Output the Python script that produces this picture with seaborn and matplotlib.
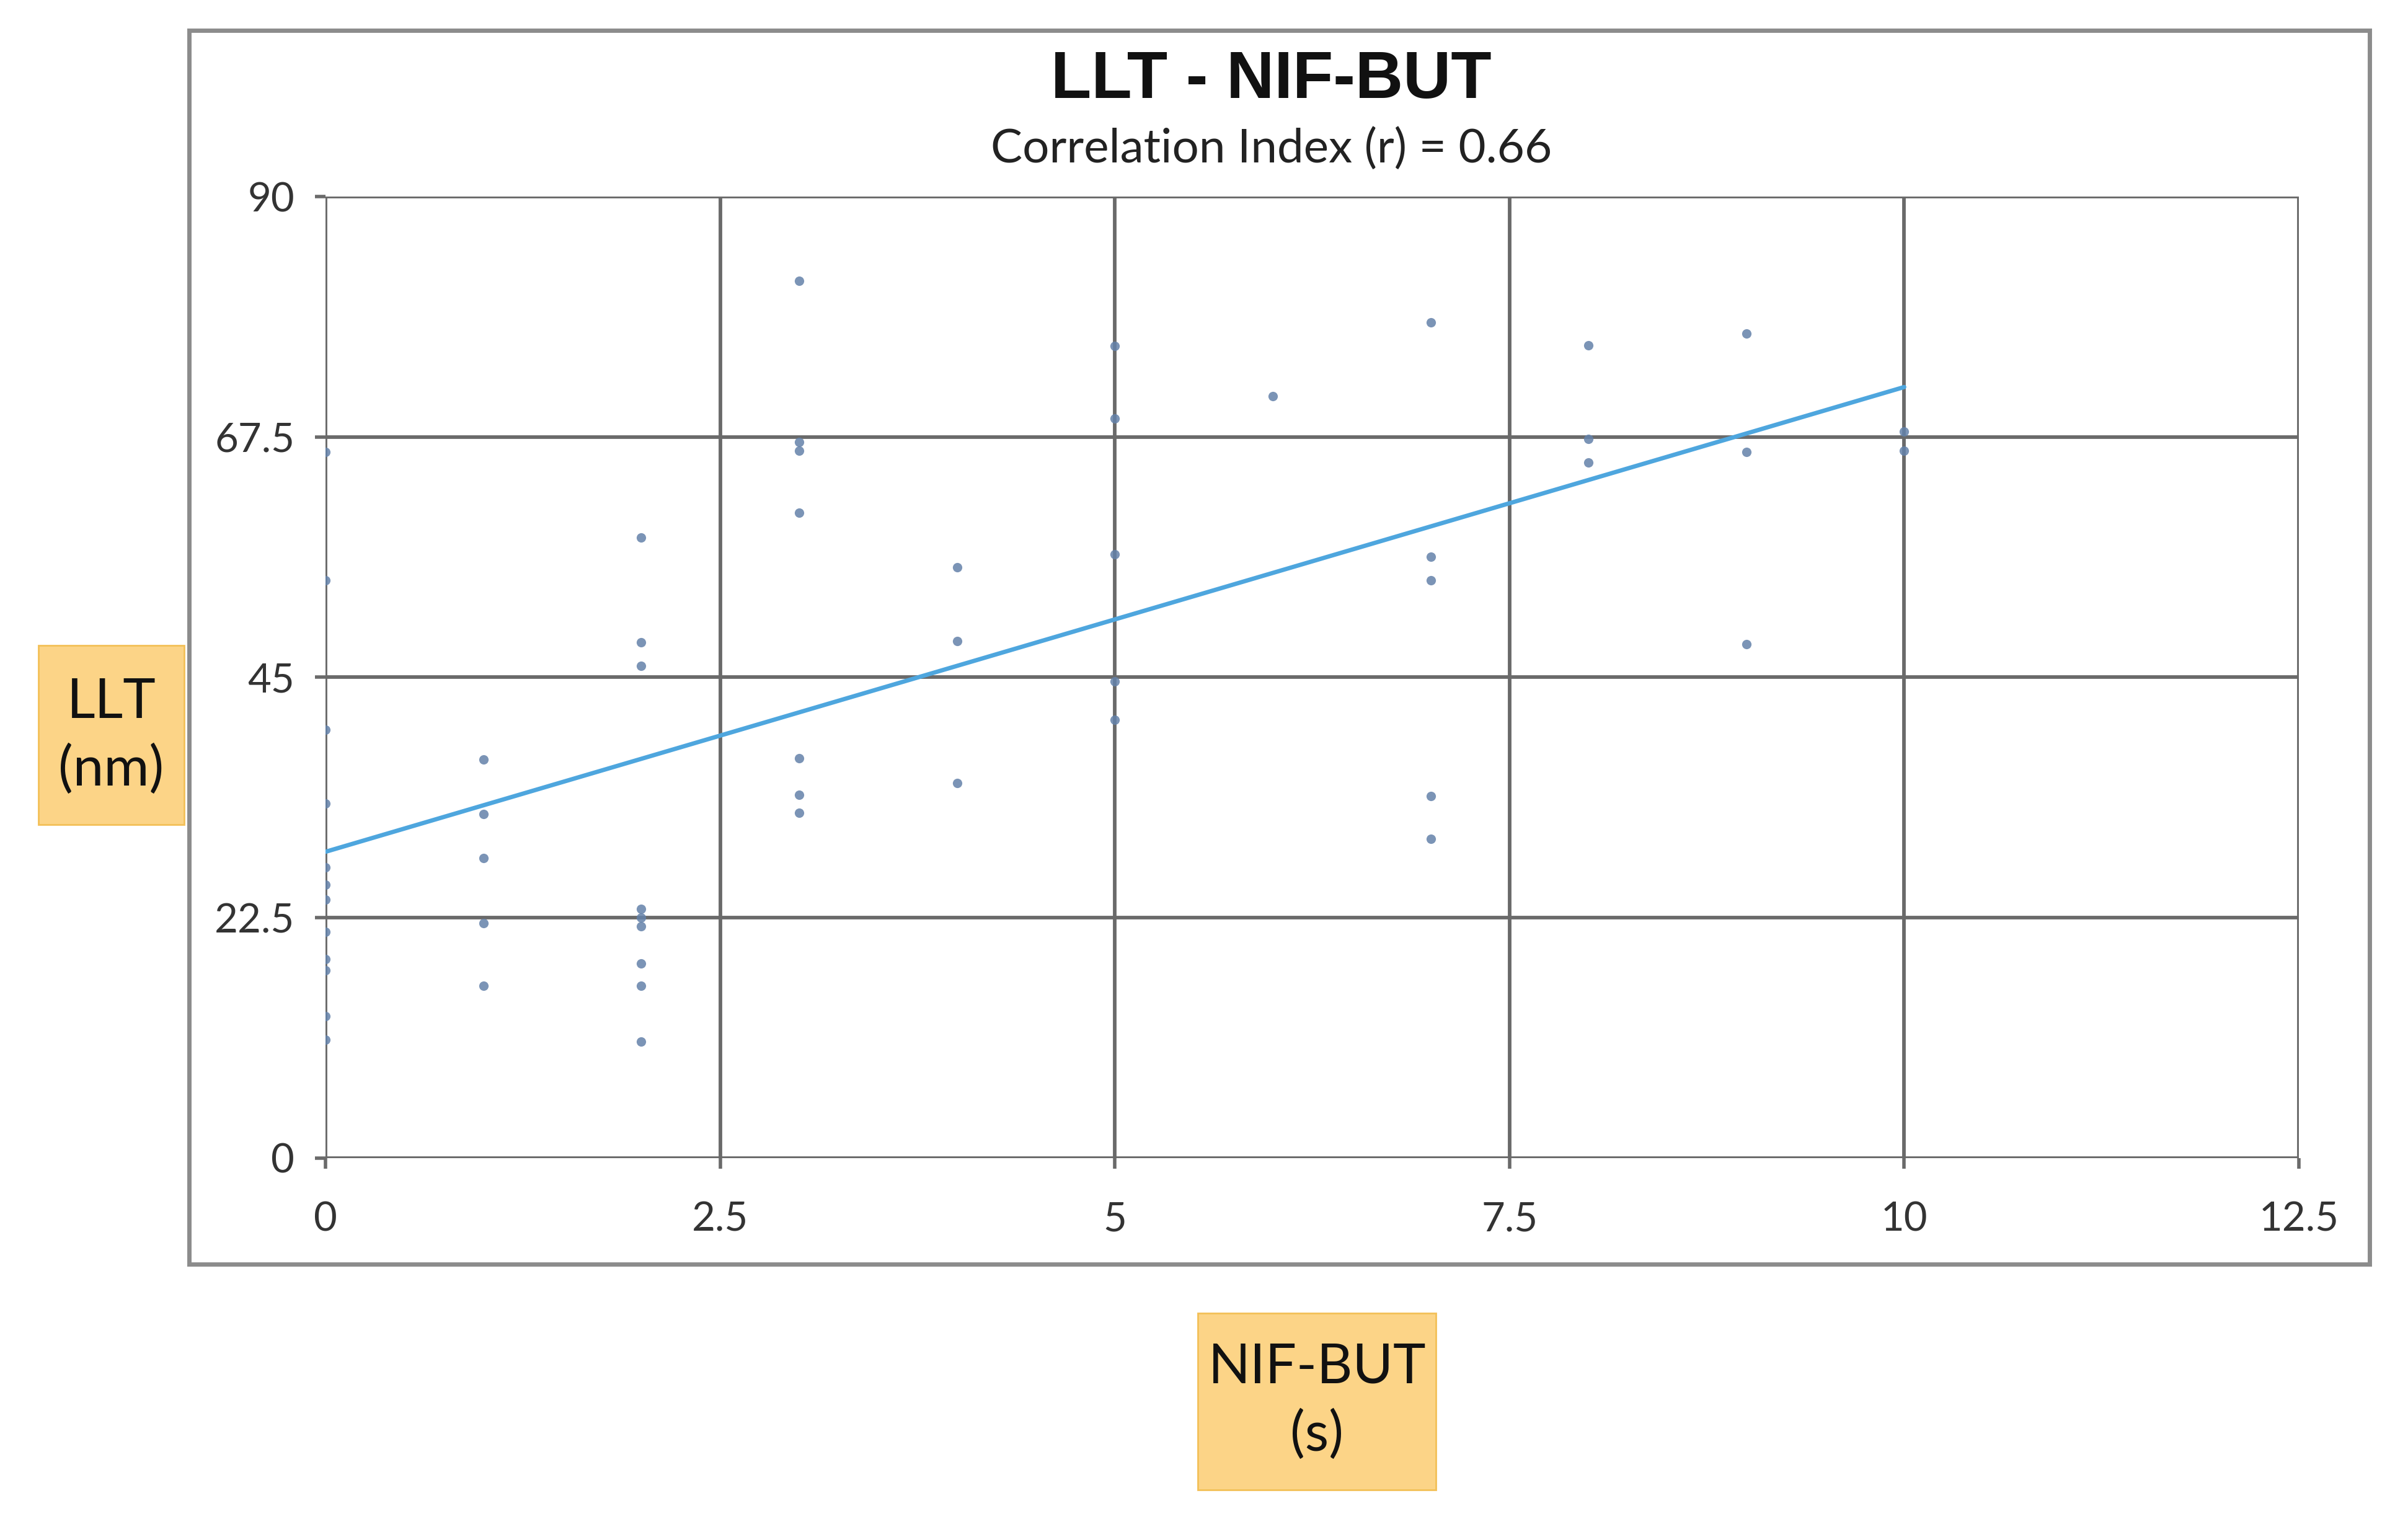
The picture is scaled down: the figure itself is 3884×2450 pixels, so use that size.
import numpy as np
import pandas as pd
import matplotlib
matplotlib.use("Agg")
import matplotlib.pyplot as plt
from matplotlib.patches import Rectangle
import seaborn as sns

# ---- data ----
nif_but = ([0] * 12 + [1] * 5 + [2] * 9 + [3] * 7 + [4] * 3 + [5] * 5 + [6] * 1
           + [7] * 5 + [8] * 3 + [9] * 3 + [10] * 2)
llt = [66.1, 54.1, 40.1, 33.2, 27.2, 25.6, 24.2, 21.2, 18.6, 17.6, 13.3, 11.1,
       37.3, 32.2, 28.1, 22.0, 16.1,
       58.1, 48.3, 46.1, 23.3, 22.5, 21.7, 18.2, 16.1, 10.9,
       82.1, 67.0, 66.2, 60.4, 37.4, 34.0, 32.3,
       55.3, 48.4, 35.1,
       76.0, 69.2, 56.5, 44.6, 41.0,
       71.3,
       78.2, 56.3, 54.1, 33.9, 29.9,
       76.1, 67.3, 65.1,
       77.2, 66.1, 48.1,
       68.0, 66.2]
x_ticks = [0, 2.5, 5, 7.5, 10, 12.5]
x_tick_labels = ["0", "2.5", "5", "7.5", "10", "12.5"]
y_ticks = [0, 22.5, 45, 67.5, 90]
y_tick_labels = ["0", "22.5", "45", "67.5", "90"]
title = "LLT - NIF-BUT"
subtitle = "Correlation Index (r) = 0.66"
x_label = "NIF-BUT\n(s)"
y_label = "LLT\n(nm)"

df = pd.DataFrame({"NIF-BUT": nif_but, "LLT": llt})

sns.set_theme(style="white")
plt.rcParams["font.family"] = ["Lato", "DejaVu Sans"]

fig = plt.figure(figsize=(38.84, 24.5), dpi=100)
fig.patch.set_facecolor("white")

# outer chart frame
fig.patches.append(Rectangle((0.0784, 0.1678), 0.9056, 0.812, transform=fig.transFigure,
                             fill=False, edgecolor="#8c8c8c", linewidth=5, zorder=0))

ax = fig.add_axes([0.1352, 0.2376, 0.8195, 0.633])

sns.regplot(data=df, x="NIF-BUT", y="LLT", ax=ax, ci=None,
            scatter_kws=dict(s=120, color="#6482aa", alpha=0.85, linewidths=0, zorder=3),
            line_kws=dict(color="#4ea6de", linewidth=5, zorder=4))

ax.set_xlim(0, 12.5)
ax.set_ylim(0, 90)
ax.set_xticks(x_ticks)
ax.set_xticklabels(x_tick_labels)
ax.set_yticks(y_ticks)
ax.set_yticklabels(y_tick_labels)
ax.grid(True, color="#6a6a6a", linewidth=4.2)
ax.set_axisbelow(True)
for sp in ax.spines.values():
    sp.set_visible(False)
ax.tick_params(axis="x", pad=38)
ax.tick_params(axis="y", pad=24)
ax.tick_params(axis="both", which="both", length=12, width=4, color="#6a6a6a",
               labelsize=47, labelcolor="#333333", direction="out",
               bottom=True, left=True)
ax.set_xlabel("")
ax.set_ylabel("")

# titles
fig.text(0.528, 0.947, title, ha="center", va="center", fontsize=77,
         fontweight="bold", family=["Liberation Sans", "DejaVu Sans"], color="#111111")
fig.text(0.528, 0.902, subtitle, ha="center", va="center", fontsize=55,
         color="#222222")

# axis labels in orange boxes
box_fc, box_ec = "#fcd487", "#f3c057"
fig.patches.append(Rectangle((0.0159, 0.457), 0.0606, 0.1183, transform=fig.transFigure,
                             facecolor=box_fc, edgecolor=box_ec, linewidth=2, zorder=1))
fig.patches.append(Rectangle((0.4974, 0.0192), 0.0989, 0.1163, transform=fig.transFigure,
                             facecolor=box_fc, edgecolor=box_ec, linewidth=2, zorder=1))
fig.text(0.0462, 0.5155, y_label, ha="center", va="center", fontsize=64,
         color="#111111", linespacing=1.4, zorder=2)
fig.text(0.5469, 0.0774, x_label, ha="center", va="center", fontsize=64,
         color="#111111", linespacing=1.4, zorder=2)

fig.savefig("out.png", dpi=100, facecolor="white")
